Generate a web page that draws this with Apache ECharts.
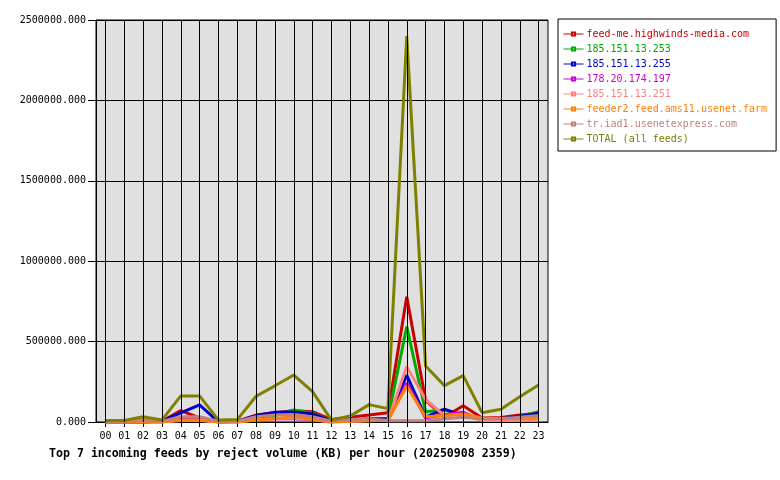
<!DOCTYPE html>
<html>
<head>
<meta charset="utf-8">
<script src="https://cdn.jsdelivr.net/npm/echarts@6/dist/echarts.min.js"></script>
<style>
  html, body { margin: 0; padding: 0; background: #fff; }
  #chart { width: 780px; height: 480px; }
</style>
</head>
<body>
<div id="chart"></div>
<script>
// hours on the x axis
const hours = ['00', '01', '02', '03', '04', '05', '06', '07', '08', '09', '10', '11',
  '12', '13', '14', '15', '16', '17', '18', '19', '20', '21', '22', '23'];

// reject volume (KB) per hour
const feedMe = [0, 0, 0, 5000, 71000, 25000, 0, 5000, 43000, 58000, 70000, 64000,
  15000, 29000, 43000, 58000, 779000, 135000, 31000, 101000, 25000, 28000, 43000, 55000];
const feed253 = [0, 0, 0, 0, 24000, 24000, 0, 0, 20000, 40000, 75000, 55000,
  5000, 10000, 15000, 20000, 593000, 64000, 75000, 43000, 15000, 20000, 35000, 64000];
const feed255 = [0, 0, 0, 5000, 56000, 106000, 0, 5000, 40000, 60000, 62000, 50000,
  5000, 10000, 20000, 20000, 292000, 30000, 80000, 40000, 15000, 20000, 35000, 55000];
const feed197 = [0, 0, 0, 0, 20000, 20000, 0, 0, 15000, 20000, 20000, 15000,
  0, 5000, 10000, 10000, 242000, 25000, 45000, 60000, 10000, 15000, 25000, 35000];
const feed251 = [0, 0, 0, 0, 10000, 10000, 0, 0, 15000, 20000, 25000, 15000,
  0, 5000, 10000, 10000, 344000, 140000, 40000, 45000, 10000, 10000, 10000, 10000];
const feeder2 = [0, 0, 5000, 0, 12000, 12000, 0, 0, 12000, 20000, 35000, 15000,
  0, 5000, 8000, 12000, 224000, 33000, 40000, 50000, 25000, 20000, 22000, 25000];
const trIad1 = [5000, 5000, 15000, 5000, 33000, 33000, 5000, 5000, 33000, 43000, 46000, 33000,
  5000, 15000, 20000, 8000, 8000, 8000, 20000, 30000, 20000, 20000, 30000, 40000];
const total = [10000, 10000, 33000, 12000, 162000, 162000, 12000, 15000, 160000, 225000, 292000, 189000,
  12000, 37000, 108000, 83000, 2400000, 348000, 226000, 288000, 58000, 79000, 157000, 230000];

const feeds = [
  { name: 'feed-me.highwinds-media.com', data: feedMe, color: '#cc0000' },
  { name: '185.151.13.253', data: feed253, color: '#00aa00' },
  { name: '185.151.13.255', data: feed255, color: '#0000cc' },
  { name: '178.20.174.197', data: feed197, color: '#cc00cc' },
  { name: '185.151.13.251', data: feed251, color: '#ff8080' },
  { name: 'feeder2.feed.ams11.usenet.farm', data: feeder2, color: '#ff8000' },
  { name: 'tr.iad1.usenetexpress.com', data: trIad1, color: '#c08080' },
  { name: 'TOTAL (all feeds)', data: total, color: '#808000' }
];

const FONT = 'DejaVu Sans Mono';

const chart = echarts.init(document.getElementById('chart'));

const series = feeds.map(f => ({
  name: f.name,
  type: 'line',
  data: f.data,
  symbol: 'emptyRect',
  symbolSize: 4,
  showSymbol: false,
  z: 3,
  itemStyle: { color: f.color },
  lineStyle: { color: f.color, width: 3 },
  animation: false
}));

// vertical grid lines at every hour
series.unshift({
  name: 'grid',
  type: 'line',
  data: [],
  z: 1,
  silent: true,
  markLine: {
    silent: true,
    symbol: 'none',
    label: { show: false },
    lineStyle: { color: '#000', type: 'solid', width: 1 },
    data: hours.map(h => ({ xAxis: h }))
  },
  animation: false
});

const option = {
  backgroundColor: '#fff',
  animation: false,
  textStyle: { fontFamily: FONT },
  title: {
    text: 'Top 7 incoming feeds by reject volume (KB) per hour (20250908 2359)',
    left: 44,
    top: 443,
    textStyle: { fontFamily: FONT, fontSize: 11.6, fontWeight: 'bold', color: '#000' }
  },
  legend: {
    orient: 'vertical',
    left: 558,
    top: 19,
    padding: [9, 9, 6, 5],
    itemGap: 3,
    itemWidth: 20,
    itemHeight: 4,
    backgroundColor: '#fff',
    borderColor: '#000',
    borderWidth: 1,
    borderRadius: 0,
    itemStyle: { borderWidth: 1 },
    lineStyle: { width: 1 },
    textStyle: { fontFamily: FONT, fontSize: 10, padding: [0, 0, 0, -2], lineHeight: 12 },
    data: feeds.map(f => ({ name: f.name, textStyle: { color: f.color } }))
  },
  grid: {
    left: 96,
    top: 20,
    right: 232,
    bottom: 58,
    show: true,
    backgroundColor: '#e0e0e0',
    borderColor: '#000',
    borderWidth: 1
  },
  xAxis: {
    type: 'category',
    data: hours,
    boundaryGap: true,
    axisLine: { lineStyle: { color: '#000', width: 1 } },
    axisTick: { show: true, alignWithLabel: true, length: 5, lineStyle: { color: '#000' } },
    axisLabel: { color: '#000', fontFamily: FONT, fontSize: 10, margin: 9, interval: 0 },
    splitLine: { show: false }
  },
  yAxis: {
    type: 'value',
    min: 0,
    max: 2500000,
    interval: 500000,
    axisLine: { show: true, lineStyle: { color: '#000' } },
    axisTick: { show: true, length: 8, lineStyle: { color: '#000' } },
    axisLabel: {
      color: '#000',
      fontFamily: FONT,
      fontSize: 10,
      margin: 10,
      formatter: v => v.toFixed(3)
    },
    splitLine: { show: true, lineStyle: { color: '#000', width: 1 } }
  },
  series: series
};

chart.setOption(option);
</script>
</body>
</html>
